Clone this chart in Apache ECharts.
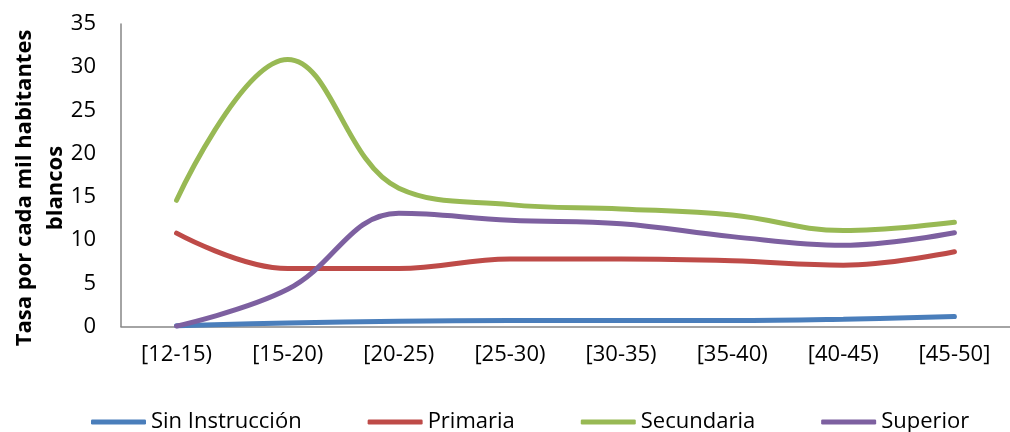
<!DOCTYPE html>
<html>
<head>
<meta charset="utf-8">
<script src="https://cdn.jsdelivr.net/npm/echarts@6/dist/echarts.min.js"></script>
<style>
  html, body { margin: 0; padding: 0; background: #fff; }
  .line { width: 1010px; height: 432px; }
</style>
</head>
<body>
<div class="line"></div>
<script>
const categories = ['[12-15)', '[15-20)', '[20-25)', '[25-30)', '[30-35)', '[35-40)', '[40-45)', '[45-50]'];
const sinInstruccion = [0.1, 0.4, 0.6, 0.7, 0.7, 0.7, 0.85, 1.15];
const primaria = [10.8, 6.7, 6.7, 7.8, 7.8, 7.6, 7.1, 8.65];
const secundaria = [14.6, 30.9, 16.0, 14.1, 13.6, 12.9, 11.1, 12.05];
const superior = [0.05, 4.3, 13.1, 12.3, 11.9, 10.4, 9.4, 10.85];
const yTicks = [0, 35, 5];

~function () {
  let myChart = echarts.init(document.querySelector('.line'));
  let font = 'Open Sans';
  let mkLine = function (name, data, color) {
    return {
      name: name,
      type: 'line',
      data: data,
      smooth: 0.4,
      symbol: 'none',
      itemStyle: { color: color },
      lineStyle: { color: color, width: 5, cap: 'round' }
    };
  };
  let option = {
    animation: false,
    grid: { left: 121, top: 24, width: 902, height: 302.5 },
    graphic: [
      {
        type: 'text', x: 25, y: 188, rotation: Math.PI / 2,
        style: { text: 'Tasa por cada mil habitantes', font: 'bold 22px "Open Sans"', fill: '#000', align: 'center', verticalAlign: 'middle' }
      },
      {
        type: 'text', x: 56, y: 188, rotation: Math.PI / 2,
        style: { text: 'blancos', font: 'bold 22px "Open Sans"', fill: '#000', align: 'center', verticalAlign: 'middle' }
      }
    ],
    legend: {
      left: 86,
      top: 406,
      itemWidth: 55,
      itemHeight: 5,
      itemGap: 66,
      icon: 'roundRect',
      textStyle: { fontFamily: font, fontSize: 22, color: '#000' },
      data: ['Sin Instrucción', 'Primaria', 'Secundaria', 'Superior']
    },
    xAxis: {
      type: 'category',
      data: categories,
      boundaryGap: true,
      axisLine: { lineStyle: { color: '#868686', width: 1.5 } },
      axisTick: { show: false },
      axisLabel: { fontFamily: font, fontSize: 22, color: '#000', margin: 17, interval: 0 }
    },
    yAxis: {
      type: 'value',
      min: yTicks[0],
      max: yTicks[1],
      interval: yTicks[2],
      axisLine: { show: true, lineStyle: { color: '#868686', width: 1.5 } },
      axisTick: { show: false },
      splitLine: { show: false },
      axisLabel: { fontFamily: font, fontSize: 22, color: '#000', margin: 25 }
    },
    series: [
      mkLine('Sin Instrucción', sinInstruccion, '#4A7EBB'),
      mkLine('Primaria', primaria, '#BE4B48'),
      mkLine('Secundaria', secundaria, '#98B954'),
      mkLine('Superior', superior, '#7D60A0')
    ]
  };
  myChart.setOption(option);
}();
</script>
</body>
</html>
